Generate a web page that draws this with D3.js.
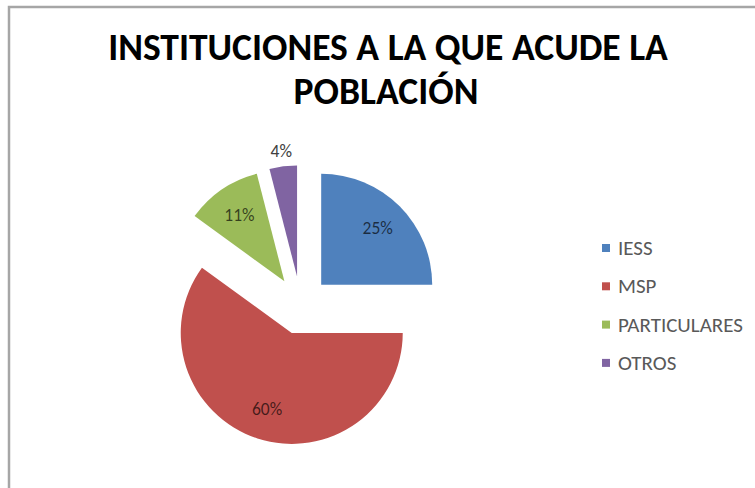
<!DOCTYPE html>
<html>
<head>
<meta charset="utf-8">
<script src="https://cdn.jsdelivr.net/npm/d3@7"></script>
<style>
  html, body { margin: 0; padding: 0; background: #fff; }
  svg { display: block; }
</style>
</head>
<body>
<svg id="chart" width="755" height="488"></svg>
<script>
const categories = ["IESS", "MSP", "PARTICULARES", "OTROS"];
const values = [25, 60, 11, 4];
const labels = ["25%", "60%", "11%", "4%"];
const colors = ["#4F81BD", "#C0504D", "#9BBB59", "#8064A2"];
const titleLines = ["INSTITUCIONES A LA QUE ACUDE LA", "POBLACIÓN"];

const svg = d3.select("#chart");
const W = 755, H = 488;

// frame
svg.append("rect").attr("x", 9).attr("y", 7).attr("width", W + 20).attr("height", H + 20)
  .attr("fill", "#fff").attr("stroke", "#a6a6a6").attr("stroke-width", 2.5);

// title
const font = "Carlito, Lato, 'Open Sans', sans-serif";
const t1 = svg.append("text").attr("x", 388).attr("y", 60).attr("text-anchor", "middle")
  .attr("font-family", font).attr("font-weight", "bold").attr("font-size", 32)
  .attr("fill", "#000").text(titleLines[0]);
const w1 = t1.node().getComputedTextLength();
const fs = 32 * 560 / w1;
t1.attr("font-size", fs);
svg.append("text").attr("x", 386).attr("y", 104).attr("text-anchor", "middle")
  .attr("font-family", font).attr("font-weight", "bold").attr("font-size", fs)
  .attr("fill", "#000").text(titleLines[1]);

// pie
const cx = 300.7, cy = 305.3, r = 111, explode = 29;
const pie = d3.pie().sort(null).value(d => d)(values);
const arc = d3.arc().innerRadius(0).outerRadius(r);
const g = svg.append("g").attr("transform", `translate(${cx},${cy})`);

pie.forEach((p, i) => {
  const mid = (p.startAngle + p.endAngle) / 2;
  const ox = explode * Math.sin(mid), oy = -explode * Math.cos(mid);
  const sg = g.append("g").attr("transform", `translate(${ox},${oy})`);
  sg.append("path").attr("d", arc(p)).attr("fill", colors[i]);
  const inside = i !== 3;
  const lr = inside ? r * 0.72 : r * 1.14;
  sg.append("text")
    .attr("x", lr * Math.sin(mid)).attr("y", -lr * Math.cos(mid))
    .attr("text-anchor", "middle").attr("dominant-baseline", "central")
    .attr("font-family", font).attr("font-size", 17.5)
    .attr("fill", inside ? "#000" : "#404040")
    .attr("fill-opacity", inside ? 0.66 : 1)
    .text(labels[i]);
});

// legend
const lg = svg.append("g");
const legendTexts = [];
categories.forEach((c, i) => {
  const y = 248 + i * 38.3;
  lg.append("rect").attr("x", 602).attr("y", y - 4).attr("width", 8).attr("height", 8).attr("fill", colors[i]);
  legendTexts.push(lg.append("text").attr("x", 618).attr("y", y).attr("dominant-baseline", "central")
    .attr("font-family", font).attr("font-size", 16).attr("fill", "#595959").text(c));
});
const wl = legendTexts[2].node().getComputedTextLength();
const lfs = 16 * 125 / wl;
legendTexts.forEach(t => t.attr("font-size", lfs));
</script>
</body>
</html>
